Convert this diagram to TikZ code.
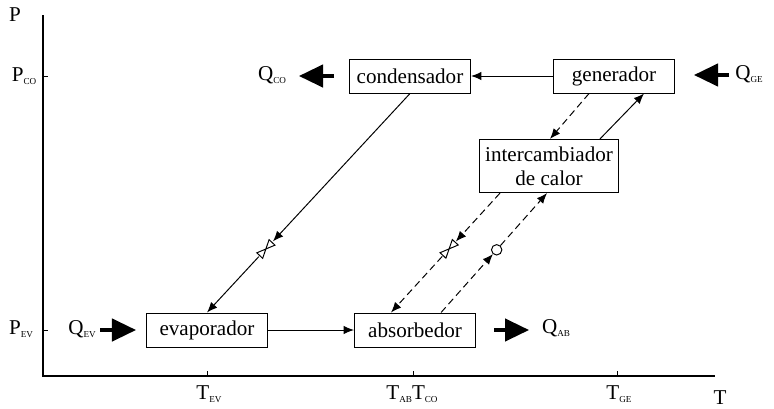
\documentclass[tikz,border=0pt]{standalone}
\usepackage{fontspec}
\setmainfont{Liberation Serif}
\usepackage{tikz}
\usetikzlibrary{arrows.meta,positioning,calc}

\newcommand{\sub}[1]{\raisebox{-0.35ex}{\fontsize{6.5}{6.5}\selectfont #1}}
\newcommand{\valve}[1]{%
  \begin{scope}[shift={(#1)},rotate=47]
    \draw[fill=white,line width=0.7pt] (0,0) -- (-9,4) -- (-9,-4) -- cycle
      (0,0) -- (9,4) -- (9,-4) -- cycle;
  \end{scope}}

\begin{document}
\begin{tikzpicture}[
  x=0.025cm, y=-0.025cm,
  font=\fontsize{15}{17}\selectfont,
  unit/.style={draw,line width=0.7pt,minimum width=3.025cm,minimum height=0.85cm,
               inner sep=2pt},
  flow/.style={-{Latex[length=2.6mm,width=2.1mm]},line width=0.7pt},
  liquid/.style={flow,dash pattern=on 5pt off 3pt},
  heat/.style={-{Triangle[length=6mm,width=5.6mm]},line width=2.2pt}
]
\useasboundingbox (0,0) rectangle (774,408);
% axes
\draw[line width=0.8pt] (43,15) -- (43,376) -- (715,376);
\draw[line width=0.6pt] (43,76) -- (48,76) (43,330) -- (48,330);
\draw[line width=0.6pt] (207,376) -- (207,371) (413,376) -- (413,371)
  (617,376) -- (617,371);
\node (paxis) at (15,15) {P};
\node (pco) at (24,76) {P\sub{CO}};
\node (pev) at (21,329) {P\sub{EV}};
\node (tev) at (209,394) {T\sub{EV}};
\node (tab) at (412,394) {T\sub{AB}T\sub{CO}};
\node (tge) at (619,394) {T\sub{GE}};
\node (taxis) at (720,398) {T};

% units
\node[unit] (cond) at (410,76) {condensador};
\node[unit,right=2.05cm of cond] (gen) {generador};
\node[unit,minimum width=3.45cm,minimum height=1.33cm,align=center] (inter)
  at (549,166) {intercambiador\\de calor};
\node[unit] (evap) at (207,330) {evaporador};
\node[unit,right=2.15cm of evap] (abs) {absorbedor};

% heat flows
\node (qco) at (272,75) {Q\sub{CO}};
\node (qge) at (749,74) {Q\sub{GE}};
\node (qev) at (82,329) {Q\sub{EV}};
\node (qab) at (556,328) {Q\sub{AB}};
\coordinate (qco-a) at (334,76);
\coordinate (qco-b) at (299,76);
\coordinate (qge-a) at (729,75);
\coordinate (qge-b) at (694,75);
\coordinate (qev-a) at (100,330);
\coordinate (qev-b) at (136,330);
\coordinate (qab-a) at (494,330);
\coordinate (qab-b) at (529,330);
\draw[heat] (qco-a) -- (qco-b);
\draw[heat] (qge-a) -- (qge-b);
\draw[heat] (qev-a) -- (qev-b);
\draw[heat] (qab-a) -- (qab-b);

% refrigerant
\draw[flow] (gen.west) -- (cond.east);
\draw[flow] (evap.east) -- (abs.west);
\coordinate (v1a) at ($(cond.south)!0.675!(evap.north)$);
\coordinate (v1) at ($(cond.south)!0.71!(evap.north)$);
\coordinate (v1b) at ($(cond.south)!0.745!(evap.north)$);
\draw[flow] (cond.south) -- (v1a);
\draw[flow] (v1b) -- (evap.north);
\valve{v1}

% solution
\coordinate (g1) at ($(gen.south)+(-25,0)$);
\coordinate (g2) at ($(gen.south)+(30,0)$);
\coordinate (it1) at ($(inter.north)+(1,0)$);
\coordinate (it2) at ($(inter.north)+(51,0)$);
\coordinate (ia) at ($(inter.south)+(-49,0)$);
\coordinate (ib) at ($(inter.south)+(-2,0)$);
\coordinate (ab1) at ($(abs.north)+(-24,0)$);
\coordinate (ab2) at ($(abs.north)+(26,0)$);
\draw[liquid] (g1) -- (it1);
\draw[flow] (it2) -- (g2);
\coordinate (v2a) at ($(ia)!0.405!(ab1)$);
\coordinate (v2) at ($(ia)!0.467!(ab1)$);
\coordinate (v2b) at ($(ia)!0.53!(ab1)$);
\draw[liquid] (ia) -- (v2a);
\draw[liquid] (v2b) -- (ab1);
\valve{v2}
\node[draw,circle,fill=white,line width=0.7pt,minimum size=0.26cm,inner sep=0pt]
  (pump) at ($(ab2)!0.525!(ib)$) {};
\draw[liquid] (ab2) -- (pump);
\draw[liquid] (pump) -- (ib);
\end{tikzpicture}
\end{document}
